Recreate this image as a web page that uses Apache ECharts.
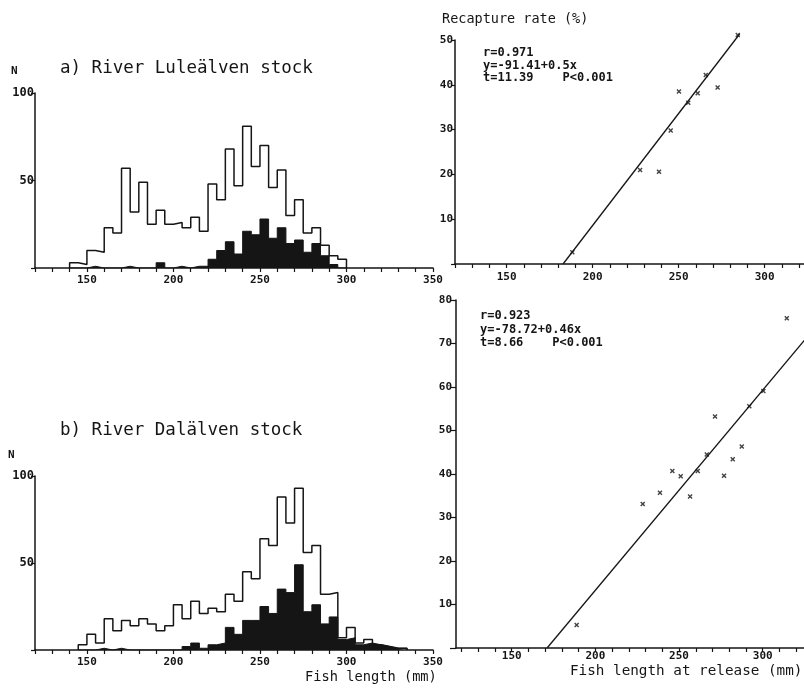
<!DOCTYPE html>
<html>
<head>
<meta charset="utf-8">
<script src="https://cdn.jsdelivr.net/npm/echarts@6/dist/echarts.min.js"></script>
<style>
  html, body { margin: 0; padding: 0; background: #fff; }
  #chart { width: 804px; height: 691px; }
</style>
</head>
<body>
<div id="chart"></div>
<script>
// ---- Length-frequency distributions, 5 mm length classes (lower class limit, mm) ----
const luleBins    = [140,145,150,155,160,165,170,175,180,185,190,195,200,205,210,215,220,225,230,235,240,245,250,255,260,265,270,275,280,285,290,295];
const luleTotal   = [3,2,10,9,23,20,57,32,49,25,33,25,26,23,29,21,48,39,68,47,81,58,70,46,56,30,39,20,23,13,7,5];
const luleRecapt  = [0,0,1,0,0,0,1,0,0,0,3,0,1,0,1,1,5,10,15,8,21,19,28,17,23,14,16,9,14,7,2,0];

const dalBins     = [145,150,155,160,165,170,175,180,185,190,195,200,205,210,215,220,225,230,235,240,245,250,255,260,265,270,275,280,285,290,295,300,305,310,315,320,325,330];
const dalTotal    = [3,9,4,18,11,17,14,18,15,11,14,26,18,28,21,24,22,32,28,45,41,64,60,88,73,93,56,60,32,33,7,13,4,6,3,2,1,1];
const dalRecapt   = [0,0,1,0,1,0,0,0,0,0,0,0,2,4,1,3,4,13,9,17,17,25,21,35,33,49,22,26,15,19,6,7,3,4,3,2,1,1];

// ---- Recapture rate (%) against mean fish length at release (mm) ----
const luleLength  = [188.2,227.6,238.6,245.4,250.2,255.6,261.1,265.8,272.7,284.4];
const luleRate    = [2.6,21.0,20.6,29.8,38.5,36.0,38.1,42.2,39.4,51.1];
const dalLength   = [188.8,228.3,238.6,246.0,251.0,256.6,261.2,266.6,271.5,276.9,282.1,287.5,292.0,300.4,314.4];
const dalRate     = [5.3,33.1,35.7,40.7,39.5,34.8,40.7,44.5,53.2,39.6,43.4,46.3,55.6,59.1,75.8];

// ---- Regression fits: [intercept, slope] and test statistics ----
const luleFit     = [-91.41, 0.5];
const luleStats   = ['r=0.971', 't=11.39    P<0.001'];
const dalFit      = [-78.72, 0.46];
const dalStats    = ['r=0.923', 't=8.66    P<0.001'];

// ---- Tick labels ----
const histXLabels    = [150, 200, 250, 300, 350];
const histYLabels    = [50, 100];
const rateXLabels    = [150, 200, 250, 300];
const rateXTicks     = [120,130,140,150,160,170,180,190,200,210,220,230,240,250,260,270,280,290,300,310,320];

const FONT = "'DejaVu Sans Mono', 'Liberation Mono', monospace";
const INK = '#151515';

// Step outline of a histogram: rises at each class limit, closes on the baseline
function stepPoints(bins, counts) {
  const w = bins[1] - bins[0];
  const pts = [[bins[0], 0]];
  bins.forEach((b, i) => pts.push([b, counts[i]]));
  pts.push([bins[bins.length - 1] + w, 0]);
  return pts;
}
const zip = (xs, ys) => xs.map((x, i) => [x, ys[i]]);
const fitLine = (fit, xEnd) => {
  const x0 = -fit[0] / fit[1];
  return [[x0, 0], [xEnd, fit[0] + fit[1] * xEnd]];
};
const eqText = fit => 'y=' + fit[0] + '+' + fit[1] + 'x';

const axisLine = { lineStyle: { color: INK, width: 1.5 } };
const tickStyle = { color: INK, width: 1.2 };
const labelStyle = { color: INK, fontFamily: FONT, fontWeight: 'bold', fontSize: 11 };
const onlyIn = list => v => (list.indexOf(v) >= 0 ? String(v) : '');

function histX(grid) {
  return {
    gridIndex: grid, type: 'value', min: 120, max: 350, interval: 10,
    axisLine, splitLine: { show: false },
    axisTick: { length: 4, lineStyle: tickStyle },
    axisLabel: Object.assign({ margin: 7, formatter: onlyIn(histXLabels) }, labelStyle)
  };
}
function histY(grid) {
  return {
    gridIndex: grid, type: 'value', min: 0, max: 100, interval: 50,
    axisLine: Object.assign({ show: true }, axisLine), splitLine: { show: false },
    axisTick: { show: true, length: 4, lineStyle: tickStyle },
    axisLabel: Object.assign({ margin: 1, formatter: onlyIn(histYLabels) }, labelStyle, { fontSize: 12 })
  };
}

// small cross used for the recapture-rate points
const xMark = 'path://M0,2 L2,0 L5,3 L8,0 L10,2 L7,5 L10,8 L8,10 L5,7 L2,10 L0,8 L3,5 Z';

const option = {
  animation: false,
  backgroundColor: '#fff',
  grid: [
    { left: 35,  top: 93,  width: 398,   height: 175, outerBoundsMode: 'none' },
    { left: 35,  top: 476, width: 398,   height: 174, outerBoundsMode: 'none' },
    { left: 455, top: 40,  width: 352.6, height: 224, outerBoundsMode: 'none' },
    { left: 456, top: 300, width: 350.2, height: 348, outerBoundsMode: 'none' }
  ],
  xAxis: [
    histX(0),
    histX(1),
    {
      gridIndex: 2, type: 'value', min: 120, max: 325, interval: 10,
      axisLine, splitLine: { show: false },
      axisTick: { length: 4, lineStyle: tickStyle },
      axisLabel: Object.assign({ margin: 8, formatter: onlyIn(rateXLabels) }, labelStyle)
    },
    {
      gridIndex: 3, type: 'value', min: 116.7, max: 326,
      axisLine, splitLine: { show: false },
      axisTick: { length: 4, lineStyle: tickStyle, customValues: rateXTicks },
      axisLabel: Object.assign({ margin: 3, customValues: rateXLabels }, labelStyle)
    }
  ],
  yAxis: [
    histY(0),
    histY(1),
    {
      gridIndex: 2, type: 'value', min: 0, max: 50, interval: 10,
      axisLine: Object.assign({ show: true }, axisLine), splitLine: { show: false },
      axisTick: { show: true, length: 4, lineStyle: tickStyle },
      axisLabel: Object.assign({ margin: 2, formatter: v => (v === 0 ? '' : String(v)) }, labelStyle)
    },
    {
      gridIndex: 3, type: 'value', min: 0, max: 80, interval: 10,
      axisLine: Object.assign({ show: true }, axisLine), splitLine: { show: false },
      axisTick: { show: true, length: 6, lineStyle: tickStyle },
      axisLabel: Object.assign({ margin: 4, formatter: v => (v === 0 ? '' : String(v)) }, labelStyle)
    }
  ],
  series: [
    // a) River Luleälven: recaptured fish (filled) and all released fish (outline)
    { type: 'line', xAxisIndex: 0, yAxisIndex: 0, step: 'end', symbol: 'none',
      data: stepPoints(luleBins, luleRecapt),
      lineStyle: { color: INK, width: 1 }, areaStyle: { color: INK, opacity: 1 } },
    { type: 'line', xAxisIndex: 0, yAxisIndex: 0, step: 'end', symbol: 'none',
      data: stepPoints(luleBins, luleTotal),
      lineStyle: { color: INK, width: 1.5 } },
    // b) River Dalälven
    { type: 'line', xAxisIndex: 1, yAxisIndex: 1, step: 'end', symbol: 'none',
      data: stepPoints(dalBins, dalRecapt),
      lineStyle: { color: INK, width: 1 }, areaStyle: { color: INK, opacity: 1 } },
    { type: 'line', xAxisIndex: 1, yAxisIndex: 1, step: 'end', symbol: 'none',
      data: stepPoints(dalBins, dalTotal),
      lineStyle: { color: INK, width: 1.5 } },
    // Recapture rate vs length, Luleälven
    { type: 'scatter', xAxisIndex: 2, yAxisIndex: 2, clip: false,
      symbol: xMark, symbolSize: 5, itemStyle: { color: INK },
      data: zip(luleLength, luleRate) },
    { type: 'line', xAxisIndex: 2, yAxisIndex: 2, clip: false, symbol: 'none',
      lineStyle: { color: INK, width: 1.3 }, data: fitLine(luleFit, 285.5) },
    // Recapture rate vs length, Dalälven
    { type: 'scatter', xAxisIndex: 3, yAxisIndex: 3, clip: false,
      symbol: xMark, symbolSize: 5, itemStyle: { color: INK },
      data: zip(dalLength, dalRate) },
    { type: 'line', xAxisIndex: 3, yAxisIndex: 3, clip: false, symbol: 'none',
      lineStyle: { color: INK, width: 1.3 }, data: fitLine(dalFit, 326) }
  ],
  graphic: [
    { type: 'text', x: 11, y: 71, style: { text: 'N', fill: INK, font: 'bold 11px ' + FONT, verticalAlign: 'middle' } },
    { type: 'text', x: 60, y: 68, style: { text: 'a) River Luleälven stock', fill: INK, font: '17.5px ' + FONT, verticalAlign: 'middle' } },
    { type: 'text', x: 8, y: 455, style: { text: 'N', fill: INK, font: 'bold 11px ' + FONT, verticalAlign: 'middle' } },
    { type: 'text', x: 60, y: 430, style: { text: 'b) River Dalälven stock', fill: INK, font: '17.5px ' + FONT, verticalAlign: 'middle' } },
    { type: 'text', x: 305, y: 677, style: { text: 'Fish length (mm)', fill: INK, font: '13.7px ' + FONT, verticalAlign: 'middle' } },
    { type: 'text', x: 442, y: 19, style: { text: 'Recapture rate (%)', fill: INK, font: '13.5px ' + FONT, verticalAlign: 'middle' } },
    { type: 'text', x: 570, y: 671, style: { text: 'Fish length at release (mm)', fill: INK, font: '14.3px ' + FONT, verticalAlign: 'middle' } },
    { type: 'text', x: 483, y: 53, style: { text: luleStats[0], fill: INK, font: 'bold 12px ' + FONT, verticalAlign: 'middle' } },
    { type: 'text', x: 483, y: 65.5, style: { text: eqText(luleFit), fill: INK, font: 'bold 12px ' + FONT, verticalAlign: 'middle' } },
    { type: 'text', x: 483, y: 78, style: { text: luleStats[1], fill: INK, font: 'bold 12px ' + FONT, verticalAlign: 'middle' } },
    { type: 'text', x: 480, y: 316, style: { text: dalStats[0], fill: INK, font: 'bold 12px ' + FONT, verticalAlign: 'middle' } },
    { type: 'text', x: 480, y: 330, style: { text: eqText(dalFit), fill: INK, font: 'bold 12px ' + FONT, verticalAlign: 'middle' } },
    { type: 'text', x: 480, y: 343, style: { text: dalStats[1], fill: INK, font: 'bold 12px ' + FONT, verticalAlign: 'middle' } }
  ]
};

echarts.init(document.getElementById('chart'), null, { renderer: 'canvas' }).setOption(option);
</script>
</body>
</html>
